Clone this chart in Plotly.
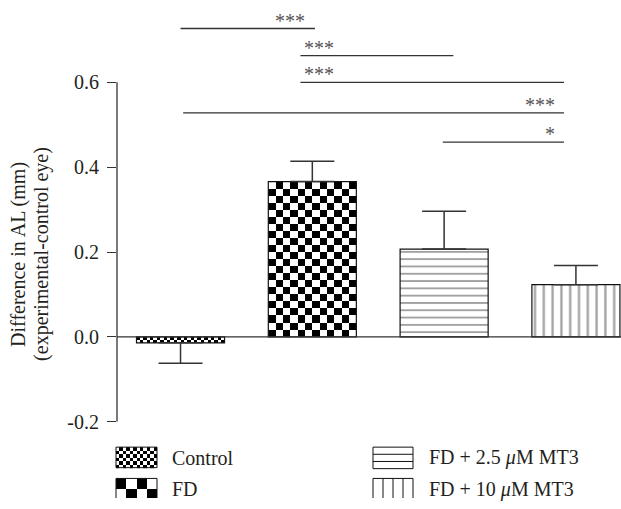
import numpy as np
import plotly.graph_objects as go

# ---- data -------------------------------------------------------------
groups = ["Control", "FD", "FD + 2.5 <i>μ</i>M MT3", "FD + 10 <i>μ</i>M MT3"]
mean_diff = [-0.014, 0.366, 0.207, 0.123]
sem_diff = [0.048, 0.048, 0.089, 0.045]

tick_vals = [-0.2, 0.0, 0.2, 0.4, 0.6]
tick_text = ["-0.2", "0.0", "0.2", "0.4", "0.6"]

# pairwise comparisons: bracket start/end (group index), height, label
sig_start = [0.0, 0.91, 0.91, 0.02, 1.99]
sig_end = [1.02, 2.07, 2.91, 2.91, 2.91]
sig_level = [0.727, 0.663, 0.600, 0.528, 0.459]
sig_label = ["***", "***", "***", "***", "*"]
sig_label_x = [0.96, 0.92, 0.92, 2.86, 2.86]
sig_label_side = ["right", "left", "left", "right", "right"]

# ---- styling ------------------------------------------------------------
W, H = 621, 509
FONT = "'Liberation Serif', 'Times New Roman', 'DejaVu Serif', serif"
INK = "#231f20"
LINE = "#333333"
BAR_W = 0.668
X_DOMAIN = [117 / W, 1.0]
Y_DOMAIN = [78 / H, 1.0]
Y_RANGE = [-0.2, 0.7942]

x_pos = np.arange(len(groups))

fig = go.Figure()


def checker(n_cols, n_rows, start=0):
    return [[(i + j + start) % 2 for i in range(n_cols)] for j in range(n_rows)]


def checker_patch(x0, x1, y0, y1, n_cols, n_rows, xa="x", ya="y", start=0):
    return go.Heatmap(
        x=np.linspace(x0, x1, n_cols + 1),
        y=np.linspace(y0, y1, n_rows + 1),
        z=checker(n_cols, n_rows, start),
        colorscale=[[0, "white"], [1, "black"]],
        zmin=0, zmax=1, showscale=False, hoverinfo="skip",
        xaxis=xa, yaxis=ya,
    )


# checkerboard fills for the Control (fine) and FD (coarse) bars
px_per_unit = 433.75
for idx, cols, cell_px in [(0, 26, 3.3), (1, 12, 7.25)]:
    v = mean_diff[idx]
    rows = max(1, int(round(abs(v) * px_per_unit / cell_px)))
    lo, hi = sorted([0.0, v])
    fig.add_trace(checker_patch(x_pos[idx] - BAR_W / 2, x_pos[idx] + BAR_W / 2,
                                lo, hi, cols, rows, start=1 if idx == 1 else 0))

# bars with one-sided error bars
fill = ["rgba(0,0,0,0)", "rgba(0,0,0,0)", "white", "white"]
pattern_shape = ["", "", "-", "|"]
pattern_size = [7.3, 7.3, 7.3, 8.8]
err_plus = [e if m >= 0 else 0 for m, e in zip(mean_diff, sem_diff)]
err_minus = [e if m < 0 else 0 for m, e in zip(mean_diff, sem_diff)]

fig.add_trace(go.Bar(
    x=x_pos, y=mean_diff, width=BAR_W,
    marker=dict(
        color=fill,
        line=dict(color="#111111", width=1.2),
        pattern=dict(shape=pattern_shape, size=pattern_size, solidity=0.26,
                     fgcolor="#000000", bgcolor="white", fillmode="overlay"),
    ),
    error_y=dict(type="data", symmetric=False, array=err_plus,
                 arrayminus=err_minus, color=LINE, thickness=1.5, width=22),
    hoverinfo="skip", showlegend=False,
))

# ---- legend drawn in its own pixel-space axes ----------------------------
fig.add_trace(checker_patch(116, 157, 457, 478, 12, 6, xa="x2", ya="y2"))
fig.add_trace(checker_patch(116, 157, 489, 510, 4, 2, xa="x2", ya="y2", start=1))

shapes = []
sw = dict(xref="x2", yref="y2", line=dict(color="#111111", width=1))
shapes.append(dict(type="rect", x0=116, x1=157, y0=457, y1=478, **sw))
shapes.append(dict(type="rect", x0=116, x1=157, y0=489, y1=512, **sw))
shapes.append(dict(type="rect", x0=373, x1=413, y0=457, y1=479, **sw))
for yy in np.linspace(457, 479, 4)[1:-1]:
    shapes.append(dict(type="line", x0=373, x1=413, y0=yy, y1=yy, **sw))
shapes.append(dict(type="rect", x0=373, x1=413, y0=489, y1=512, **sw))
for xx in np.linspace(373, 413, 5)[1:-1]:
    shapes.append(dict(type="line", x0=xx, x1=xx, y0=489, y1=512, **sw))

legend_pos = [(170, 468), (170, 500), (427, 468), (427, 500)]
annotations = []
for name, (lx, ly) in zip(groups, legend_pos):
    annotations.append(dict(x=lx, y=ly, xref="x2", yref="y2", text=name,
                            showarrow=False, xanchor="left", yanchor="middle",
                            font=dict(family=FONT, size=20, color=INK)))

# ---- axes lines -------------------------------------------------------------
shapes.append(dict(type="line", xref="paper", yref="y", x0=X_DOMAIN[0], x1=X_DOMAIN[0],
                   y0=-0.2, y1=0.6, line=dict(color=LINE, width=1.3)))
shapes.append(dict(type="line", xref="paper", yref="y", x0=X_DOMAIN[0], x1=1,
                   y0=0, y1=0, line=dict(color=LINE, width=1.3)))

# ---- significance brackets ---------------------------------------------------
for x0, x1, lvl, lab, lx, side in zip(sig_start, sig_end, sig_level, sig_label,
                                      sig_label_x, sig_label_side):
    shapes.append(dict(type="line", xref="x", yref="y", x0=x0, x1=x1, y0=lvl, y1=lvl,
                       line=dict(color=LINE, width=1.3)))
    annotations.append(dict(x=lx, y=lvl, xref="x", yref="y", text=lab, showarrow=False,
                            xanchor=side, yanchor="bottom", yshift=-5,
                            font=dict(family=FONT, size=20, color="#555555")))

# y-axis title, two rotated lines
for txt, tx in [("Difference in AL (mm)", 18.5), ("(experimental-control eye)", 41.5)]:
    annotations.append(dict(x=tx / W, y=1 - 260 / H, xref="paper", yref="paper",
                            text=txt, textangle=-90, showarrow=False,
                            xanchor="center", yanchor="middle",
                            font=dict(family=FONT, size=20, color=INK)))

fig.update_layout(
    width=W, height=H,
    margin=dict(l=0, r=0, t=0, b=0),
    font=dict(family=FONT, color=INK),
    paper_bgcolor="white", plot_bgcolor="rgba(0,0,0,0)",
    showlegend=False,
    shapes=shapes, annotations=annotations,
    xaxis=dict(domain=X_DOMAIN, range=[-0.482, 3.342], visible=False),
    yaxis=dict(domain=Y_DOMAIN, range=Y_RANGE, tickvals=tick_vals, ticktext=tick_text,
               ticks="outside", ticklen=9, tickwidth=1.3, tickcolor=LINE,
               showline=False, showgrid=False, zeroline=False, ticklabelstandoff=4,
               tickfont=dict(family=FONT, size=20, color=INK)),
    xaxis2=dict(domain=[0, 1], range=[0, W], visible=False, anchor="y2"),
    yaxis2=dict(domain=[0, 78 / H], range=[H, 431], visible=False, anchor="x2"),
)

fig.write_html("out.html")
